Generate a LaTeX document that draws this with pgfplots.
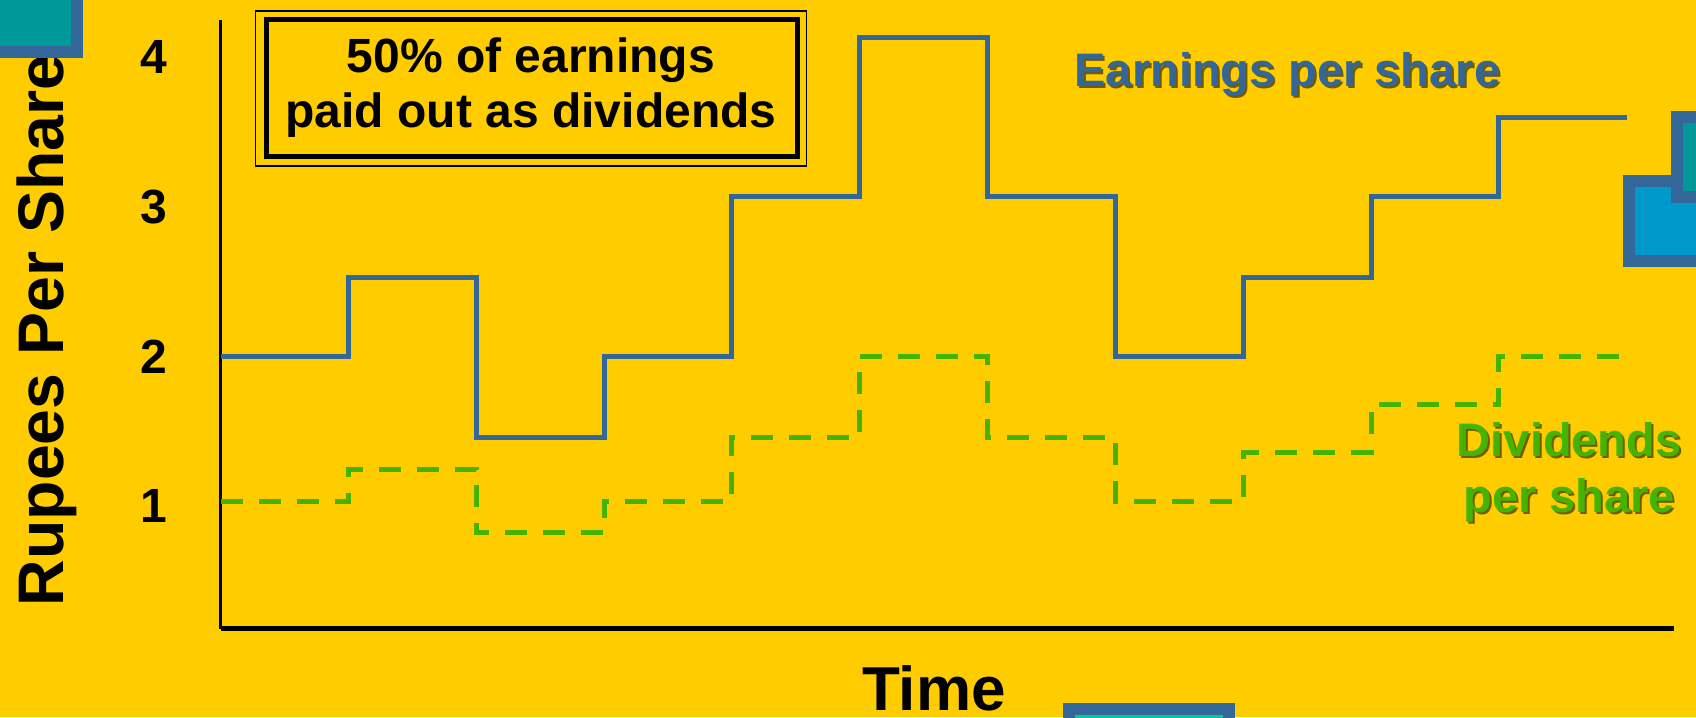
\documentclass[border=0pt]{standalone}
\usepackage{fontspec}
\setmainfont{Liberation Sans}
\usepackage{pgfplots}
\pgfplotsset{compat=1.18}
\definecolor{bg}{HTML}{FFCC00}
\definecolor{eps}{HTML}{336699}
\definecolor{divc}{RGB}{68,180,0}
\definecolor{tealc}{HTML}{009999}
\definecolor{lblue}{HTML}{0099CC}
\definecolor{aqua}{HTML}{00CC99}
\newcommand\fs[1]{\fontsize{#1}{#1}\selectfont\bfseries}
\begin{document}
\begin{tikzpicture}
\useasboundingbox (0,0) rectangle (848pt,358.5pt);
\fill[bg] (0,0) rectangle (848pt,358.5pt);
\begin{axis}[at={(110.25pt,44pt)}, anchor=south west, scale only axis,
  width=726.75pt, height=304.5pt,
  xmin=0, xmax=11.37, ymin=0.177, ymax=4.25,
  axis x line=bottom, axis y line=left, axis line style={-},
  x axis line style={line width=2.5pt}, y axis line style={line width=1.5pt},
  xtick=\empty, ytick={1,2,3,4}, yticklabels={1,2,3,4},
  major tick length=0pt,
  /pgf/number format/assume math mode=true,
  yticklabel style={anchor=center, xshift=-33.4pt, font=\fs{24}},
  clip=false]
\addplot[const plot, eps, line width=2.5pt] coordinates {
(0,2.0) (1,2.525) (2,1.46) (3,2.0) (4,3.07) (5,4.13) (6,3.07) (7,2.0) (8,2.525) (9,3.07) (10,3.60) (11,3.60)};
\addplot[const plot, divc, line width=2.5pt, dash pattern=on 11pt off 8pt] coordinates {
(0,1.033) (1,1.247) (2,0.82) (3,1.033) (4,1.46) (5,2.0) (6,1.46) (7,1.033) (8,1.36) (9,1.68) (10,2.0) (11,2.0)};
\end{axis}
% box
\draw[line width=0.8pt] (127.75pt,353pt) rectangle (403.25pt,275.5pt);
\draw[line width=2.5pt] (133pt,348.5pt) rectangle (398.5pt,280pt);
\node[anchor=base, inner sep=0pt, font=\fs{24}] at (265.5pt,322.25pt) {50\% of earnings};
\node[anchor=base, inner sep=0pt, font=\fs{24}] at (265.5pt,294.7pt) {paid out as dividends};
% labels
\node[anchor=base, inner sep=0pt, font=\fs{31}] at (467pt,3pt) {Time};
\node[anchor=base, inner sep=0pt, rotate=90, font=\fs{32.2}] at (31.65pt,193.25pt) {Rupees Per Share};
\node[anchor=base, inner sep=0pt, font=\fs{23.5}, text=black, opacity=0.55] at (644.7pt,314.15pt) {Earnings per share};
\node[anchor=base, inner sep=0pt, font=\fs{23.5}, text=eps] at (643.7pt,315.15pt) {Earnings per share};
\node[anchor=base, inner sep=0pt, font=\fs{23.5}, text=black, opacity=0.55] at (785.6pt,129.15pt) {Dividends};
\node[anchor=base, inner sep=0pt, font=\fs{23.5}, text=divc] at (784.6pt,130.15pt) {Dividends};
\node[anchor=base, inner sep=0pt, font=\fs{23.5}, text=black, opacity=0.55] at (785.6pt,101pt) {per share};
\node[anchor=base, inner sep=0pt, font=\fs{23.5}, text=divc] at (784.6pt,102pt) {per share};
% decorations
\fill[eps] (-25pt,383.5pt) rectangle (41.5pt,329.25pt);
\fill[tealc] (-25pt,383.5pt) rectangle (35.5pt,335.65pt);
\fill[eps] (811.5pt,271pt) rectangle (860pt,225pt);
\fill[lblue] (817.5pt,265pt) rectangle (860pt,231pt);
\fill[eps] (835.5pt,303pt) rectangle (860pt,257pt);
\fill[tealc] (841.5pt,297pt) rectangle (860pt,263pt);
\fill[eps] (531.5pt,7pt) rectangle (617.5pt,-10pt);
\fill[aqua] (537.5pt,1pt) rectangle (611.5pt,-10pt);
\end{tikzpicture}
\end{document}
